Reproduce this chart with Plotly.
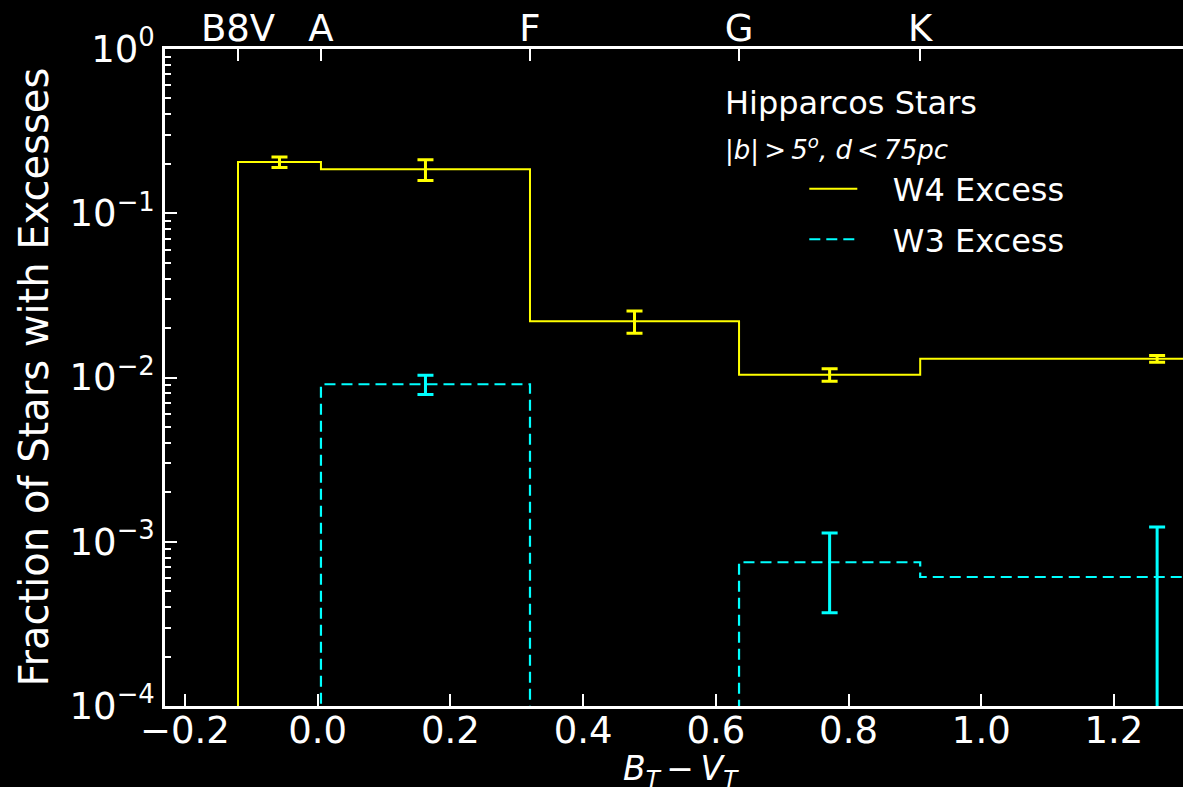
import plotly.graph_objects as go

# B_T - V_T bin edges (spectral-type boundaries B8V, A0, F0, G0, K0, M0)
bin_edges = [-0.12, 0.005, 0.32, 0.635, 0.908, 1.622]
type_labels = ["B8V", "A", "F", "G", "K"]

# Fraction of stars with excess per bin, and 1-sigma errors
w4_frac = [0.205, 0.185, 0.022, 0.0104, 0.0130]
w4_err = [0.015, 0.027, 0.0034, 0.0009, 0.0006]
w3_frac = [0.0, 0.0091, 0.0, 0.00075, 0.00061]
w3_err = [0.0, 0.00123, 0.0, 0.00038, 0.00062]

x_ticks = [-0.2, 0.0, 0.2, 0.4, 0.6, 0.8, 1.0, 1.2]
y_ticks = [1e-4, 1e-3, 1e-2, 1e-1, 1.0]
y_ticktext = ["10<sup>\u22124</sup>", "10<sup>\u22123</sup>", "10<sup>\u22122</sup>",
              "10<sup>\u22121</sup>", "10<sup>0</sup>"]

X_RANGE = [-0.23, 1.304]
FLOOR = 1e-7  # empty bins fall below the log axis
FONT = "DejaVu Sans"
YELLOW = "#ffff00"
CYAN = "#00ffff"


def step_path(edges, vals):
    xs, ys = [edges[0]], [FLOOR]
    for i, v in enumerate(vals):
        v = v if v > 0 else FLOOR
        xs += [edges[i], edges[i + 1]]
        ys += [v, v]
    xs.append(edges[-1])
    ys.append(FLOOR)
    return xs, ys


centers = [(bin_edges[i] + bin_edges[i + 1]) / 2 for i in range(len(bin_edges) - 1)]

fig = go.Figure()

pad = "\u00a0\u00a0\u00a0"
sx, sy = step_path(bin_edges, w4_frac)
fig.add_trace(go.Scatter(x=sx, y=sy, mode="lines", name=pad + "W4 Excess",
                         line=dict(color=YELLOW, width=2), legendgroup="w4"))
sx, sy = step_path(bin_edges, w3_frac)
fig.add_trace(go.Scatter(x=sx, y=sy, mode="lines", name=pad + "W3 Excess",
                         line=dict(color=CYAN, width=2.2, dash="11px,6px"), legendgroup="w3"))

# error bars at bin centres (only for non-empty bins)
for frac, err, col in [(w4_frac, w4_err, YELLOW), (w3_frac, w3_err, CYAN)]:
    cx = [c for c, f in zip(centers, frac) if f > 0]
    cy = [f for f in frac if f > 0]
    ce = [e for f, e in zip(frac, err) if f > 0]
    fig.add_trace(go.Scatter(
        x=cx, y=cy, mode="markers", marker=dict(size=1, color="rgba(0,0,0,0)"),
        error_y=dict(type="data", array=ce, color=col, thickness=3, width=8, visible=True),
        showlegend=False, hoverinfo="skip"))

# carrier for the spectral-type axis on top
fig.add_trace(go.Scatter(x=bin_edges[:5], y=[None] * 5, xaxis="x2", showlegend=False,
                         mode="markers", hoverinfo="skip"))

minor_vals = [m * 10 ** d for d in range(-4, 0) for m in range(2, 10)]

fig.update_layout(
    width=1183, height=787,
    paper_bgcolor="black", plot_bgcolor="black",
    margin=dict(l=165, r=0, t=49, b=81),
    font=dict(family=FONT, color="white", size=37),
    showlegend=True,
    legend=dict(x=0.628, y=0.829, xanchor="left", yanchor="top",
                bgcolor="rgba(0,0,0,0)", font=dict(size=32, color="white"),
                itemwidth=48, traceorder="grouped", tracegroupgap=6),
    xaxis=dict(range=X_RANGE, tickvals=x_ticks,
               ticktext=[f"{v:.1f}".replace("-", "\u2212") for v in x_ticks],
               ticks="inside", ticklen=12, tickwidth=2, tickcolor="white",
               ticklabelstandoff=-10,
               showline=True, linecolor="white", linewidth=2.5,
               showgrid=False, zeroline=False, tickfont=dict(size=37)),
    xaxis2=dict(range=X_RANGE, overlaying="x", side="top", anchor="y",
                tickvals=bin_edges[:5], ticktext=type_labels,
                ticks="inside", ticklen=12, tickwidth=2, tickcolor="white",
                ticklabelstandoff=-10,
                showline=True, linecolor="white", linewidth=2.5,
                showgrid=False, zeroline=False, tickfont=dict(size=37)),
    yaxis=dict(type="log", range=[-4, 0], tickvals=y_ticks, ticktext=y_ticktext,
               ticks="inside", ticklen=12, tickwidth=2, tickcolor="white",
               minor=dict(tickvals=minor_vals, ticks="inside", ticklen=6,
                          tickwidth=2, tickcolor="white", showgrid=False),
               showline=True, linecolor="white", linewidth=2.5,
               showgrid=False, zeroline=False, tickfont=dict(size=37)),
)

fig.add_annotation(text="Fraction of Stars with Excesses", textangle=-90,
                   xref="paper", yref="paper", x=(33 - 165) / 1018, y=0.5,
                   xanchor="center", yanchor="middle", showarrow=False,
                   font=dict(size=40, color="white"))
fig.add_annotation(text="<i>B</i><sub><i>T</i></sub>\u2009\u2212\u2009<i>V</i><sub><i>T</i></sub>",
                   xref="paper", yref="paper", x=(681 - 165) / 1018, y=(706 - 770) / 657,
                   xanchor="center", yanchor="middle", showarrow=False,
                   font=dict(size=33, color="white"))
fig.add_annotation(text="Hipparcos Stars", xref="paper", yref="paper",
                   x=(723 - 165) / 1018, y=(706 - 103) / 657,
                   xanchor="left", yanchor="middle", showarrow=False,
                   font=dict(size=32, color="white"))
fig.add_annotation(text="<i>|b|\u2009&gt;\u20095<sup>o</sup>, d\u2009&lt;\u200975pc</i>",
                   xref="paper", yref="paper",
                   x=(723 - 165) / 1018, y=(706 - 148) / 657,
                   xanchor="left", yanchor="middle", showarrow=False,
                   font=dict(size=26, color="white"))

fig.write_html("out.html")
